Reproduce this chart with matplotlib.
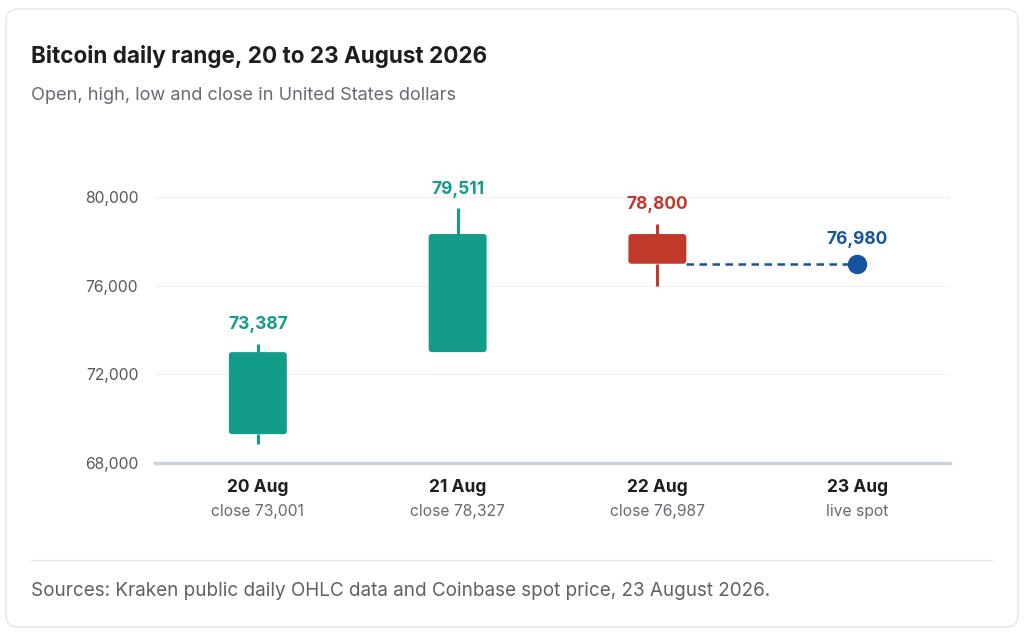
import matplotlib
matplotlib.use("Agg")
import matplotlib.pyplot as plt
from matplotlib.patches import FancyBboxPatch
from matplotlib.lines import Line2D

plt.rcParams['font.family'] = ['Inter', 'DejaVu Sans']

# Data
days = ["20 Aug", "21 Aug", "22 Aug"]
opens = [69300, 73001, 78327]
highs = [73387, 79511, 78800]
lows = [68850, 73001, 76000]
closes = [73001, 78327, 76987]
spot_label = "23 Aug"
spot_value = 76980
x_labels = ["20 Aug", "21 Aug", "22 Aug", "23 Aug"]
x_sublabels = ["close 73,001", "close 78,327", "close 76,987", "live spot"]
y_ticks = [68000, 72000, 76000, 80000]

GREEN = "#129c8a"
RED = "#c0392b"
BLUE = "#1554a0"

W, H = 1024, 637
fig = plt.figure(figsize=(W / 100, H / 100), dpi=100)
fig.patch.set_facecolor("white")

# Card
card = FancyBboxPatch((6 / W, 1 - 627 / H), (1012) / W, (618) / H,
                      boxstyle="round,pad=0,rounding_size=0.012",
                      transform=fig.transFigure, facecolor="white",
                      edgecolor="#e4e4e4", linewidth=1.0, zorder=-5,
                      mutation_aspect=W / H)
fig.patches.append(card)

fig.text(31 / W, 1 - 57 / H, "Bitcoin daily range, 20 to 23 August 2026",
         fontsize=16.2, fontweight="bold", color="#1c1e21", va="center", ha="left")
fig.text(31 / W, 1 - 95.5 / H, "Open, high, low and close in United States dollars",
         fontsize=13.1, color="#666a70", va="center", ha="left")

# Separator and source
fig.lines.append(Line2D([31 / W, 992 / W], [1 - 560 / H, 1 - 560 / H],
                        transform=fig.transFigure, color="#e8e8e8", linewidth=1.0))
fig.text(31 / W, 1 - 591.5 / H,
         "Sources: Kraken public daily OHLC data and Coinbase spot price, 23 August 2026.",
         fontsize=13.6, color="#5f6166", va="center", ha="left")

# Axes
ax_left, ax_right = 155 / W, 950 / W
ax_bottom = 1 - 463 / H
ax_top = 1 - 152.6 / H
ax = fig.add_axes([ax_left, ax_bottom, ax_right - ax_left, ax_top - ax_bottom])
ax.set_facecolor("none")
ax.set_xlim(-0.515, 3.465)
ax.set_ylim(68000, 82000)
for s in ax.spines.values():
    s.set_visible(False)
ax.set_yticks(y_ticks)
ax.set_yticklabels([f"{v:,}" for v in y_ticks], fontsize=11.3, color="#55585c")
ax.tick_params(axis="y", length=0, pad=12)
ax.set_xticks([])
for v in y_ticks[1:]:
    ax.axhline(v, color="#f0f0f0", linewidth=1.0, zorder=0)
ax.axhline(68000, color="#cdd3dc", linewidth=2.5, zorder=1, clip_on=False)

body_w = 0.29
px_x = 200.0     # pixels per x unit
px_y = 0.02217   # pixels per dollar
r = 3.0 / px_x   # corner radius in x units (3 px)
for i, (o, h, l, c) in enumerate(zip(opens, highs, lows, closes)):
    col = GREEN if c >= o else RED
    lo, hi = min(o, c), max(o, c)
    if h > hi:
        ax.plot([i, i], [hi, h], color=col, linewidth=2.2, solid_capstyle="butt", zorder=2)
    if l < lo:
        ax.plot([i, i], [l, lo], color=col, linewidth=2.2, solid_capstyle="butt", zorder=2)
    box = FancyBboxPatch((i - body_w / 2, lo), body_w, hi - lo,
                         boxstyle=f"round,pad=0,rounding_size={r}",
                         mutation_aspect=px_x / px_y,
                         facecolor=col, edgecolor="none", zorder=3)
    ax.add_patch(box)
    ax.annotate(f"{h:,}", (i, h), xytext=(0, 13.4), textcoords="offset points",
                ha="center", va="center", fontsize=12.5, fontweight="bold", color=col)

# Spot
ax.plot([2 + body_w / 2, 3], [spot_value, spot_value], color=BLUE, linewidth=1.8,
        linestyle=(0, (3, 2.2)), zorder=2)
ax.plot([3], [spot_value], marker="o", markersize=13, color=BLUE, zorder=4)
ax.annotate(f"{spot_value:,}", (3, spot_value), xytext=(0, 17.5), textcoords="offset points",
            ha="center", va="center", fontsize=12.5, fontweight="bold", color=BLUE)

for i, (lab, sub) in enumerate(zip(x_labels, x_sublabels)):
    ax.annotate(lab, (i, 0), xycoords=("data", "axes fraction"), xytext=(0, -17.6),
                textcoords="offset points", ha="center", va="center",
                fontsize=12.5, fontweight="bold", color="#1c1e21", annotation_clip=False)
    ax.annotate(sub, (i, 0), xycoords=("data", "axes fraction"), xytext=(0, -35),
                textcoords="offset points", ha="center", va="center",
                fontsize=11.3, color="#666a70", annotation_clip=False)

fig.savefig("out.png", dpi=100, facecolor="white")
